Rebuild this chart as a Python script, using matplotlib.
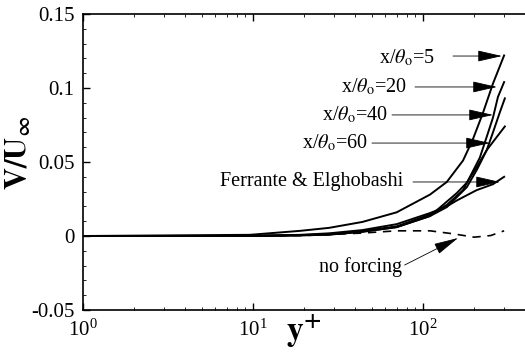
import matplotlib
matplotlib.use("Agg")
import matplotlib.pyplot as plt
import numpy as np
from matplotlib.ticker import FixedLocator, FuncFormatter, LogLocator, NullFormatter

plt.rcParams['font.family'] = 'serif'
plt.rcParams['font.serif'] = ['Liberation Serif', 'DejaVu Serif']
plt.rcParams['mathtext.fontset'] = 'stix'

# wall-normal velocity profiles V/U_inf against y+
y_x5 = [1, 9.6, 19, 28, 44, 70, 110, 138, 172, 196, 225, 258, 300]
v_x5 = [0, 0.0008, 0.0035, 0.0055, 0.0095, 0.016, 0.028, 0.0365, 0.051, 0.065, 0.083, 0.103, 0.122]

y_x20 = [1, 9.6, 19, 28, 44, 70, 110, 138, 172, 189, 216, 237, 258, 276, 300]
v_x20 = [0, 0, 0.0006, 0.0012, 0.0033, 0.0065, 0.0145, 0.021, 0.031, 0.040, 0.053, 0.067, 0.080, 0.094, 0.104]

y_x40 = [1, 9.6, 19, 28, 44, 70, 110, 138, 181, 208, 237, 258, 282, 303]
v_x40 = [0, 0, 0.0005, 0.001, 0.003, 0.006, 0.0135, 0.0195, 0.033, 0.045, 0.058, 0.070, 0.083, 0.093]

y_x60 = [1, 9.6, 19, 28, 44, 70, 110, 158, 181, 208, 237, 272, 303]
v_x60 = [0, 0, 0.0004, 0.0009, 0.0028, 0.006, 0.0135, 0.029, 0.036, 0.047, 0.058, 0.067, 0.074]

y_fe = [1, 9.6, 19, 28, 44, 70, 110, 138, 158, 207, 258, 300]
v_fe = [0, 0, 0.0008, 0.0018, 0.004, 0.008, 0.0155, 0.020, 0.024, 0.031, 0.035, 0.040]

y_nf = [1, 20, 44, 70, 110, 150, 200, 250, 300]
v_nf = [0, 0.0003, 0.002, 0.0035, 0.0035, 0.0015, -0.0008, 0.0003, 0.0035]

fig = plt.figure(figsize=(5.25, 3.59), dpi=100)
ax = fig.add_axes([83 / 525, 1 - 310 / 359, 1 - 83 / 525, 296 / 359])

ax.plot(y_nf, v_nf, color='black', lw=1.2, ls=(0, (5, 4)))
for yy, vv in [(y_x5, v_x5), (y_x20, v_x20), (y_x40, v_x40), (y_x60, v_x60), (y_fe, v_fe)]:
    ax.plot(yy, vv, color='black', lw=1.4)

ax.set_xscale('log')
ax.set_xlim(1, 10 ** ((525 - 83) / 170))
ax.set_ylim(-0.05, 0.15)

ax.yaxis.set_major_locator(FixedLocator([-0.05, 0, 0.05, 0.1, 0.15]))
ax.yaxis.set_minor_locator(FixedLocator(np.arange(-0.05, 0.151, 0.01)))
ax.yaxis.set_major_formatter(FuncFormatter(lambda v, p: '%g' % round(v, 3)))
ax.xaxis.set_major_locator(LogLocator(base=10, numticks=10))
ax.xaxis.set_minor_locator(LogLocator(base=10, subs=np.arange(2, 10), numticks=10))
ax.xaxis.set_minor_formatter(NullFormatter())

ax.tick_params(which='both', direction='in', top=True, right=False, labelsize=15)
ax.tick_params(which='major', length=5, width=1)
ax.tick_params(which='minor', length=2.5, width=0.6)
ax.tick_params(axis='x', pad=7)
ax.tick_params(axis='y', pad=6)
ax.spines['right'].set_visible(False)
for s in ['left', 'bottom', 'top']:
    ax.spines[s].set_linewidth(1.2)

ax.set_ylabel(r'$\mathbf{V/U_{\infty}}$', fontsize=22)
ax.yaxis.set_label_coords(-0.112, 0.53)
ax.set_xlabel(r'$\mathbf{y^{+}}$', fontsize=24, labelpad=-20)

# labels with arrows: (text, text right end, arrow start, arrow tip)
notes = [
    (r'x/$\theta_{\rm o}$=5', (117.7, 0.1203), (150.1, 0.1216), (291.5, 0.1216)),
    (r'x/$\theta_{\rm o}$=20', (80.5, 0.1007), (89.7, 0.1007), (272.4, 0.1007)),
    (r'x/$\theta_{\rm o}$=40', (62.3, 0.0818), (65.7, 0.0818), (258.1, 0.0818)),
    (r'x/$\theta_{\rm o}$=60', (47.5, 0.0628), (50.1, 0.0628), (247.7, 0.0628)),
    ('Ferrante & Elghobashi', (76.3, 0.0365), (87.3, 0.0365), (283.8, 0.0365)),
    ('no forcing', (75.2, -0.0209), (78.0, -0.0196), (160.7, -0.00135)),
]
for label, tpos, start, tip in notes:
    ax.text(tpos[0], tpos[1], label, ha='right', va='center', fontsize=14.5)
    ax.annotate('', xy=tip, xytext=start,
                arrowprops=dict(arrowstyle='-|>,head_length=1.1,head_width=0.25',
                                lw=0.6, color='black', shrinkA=0, shrinkB=0),
                fontsize=14)

fig.savefig('out.png', dpi=100)
